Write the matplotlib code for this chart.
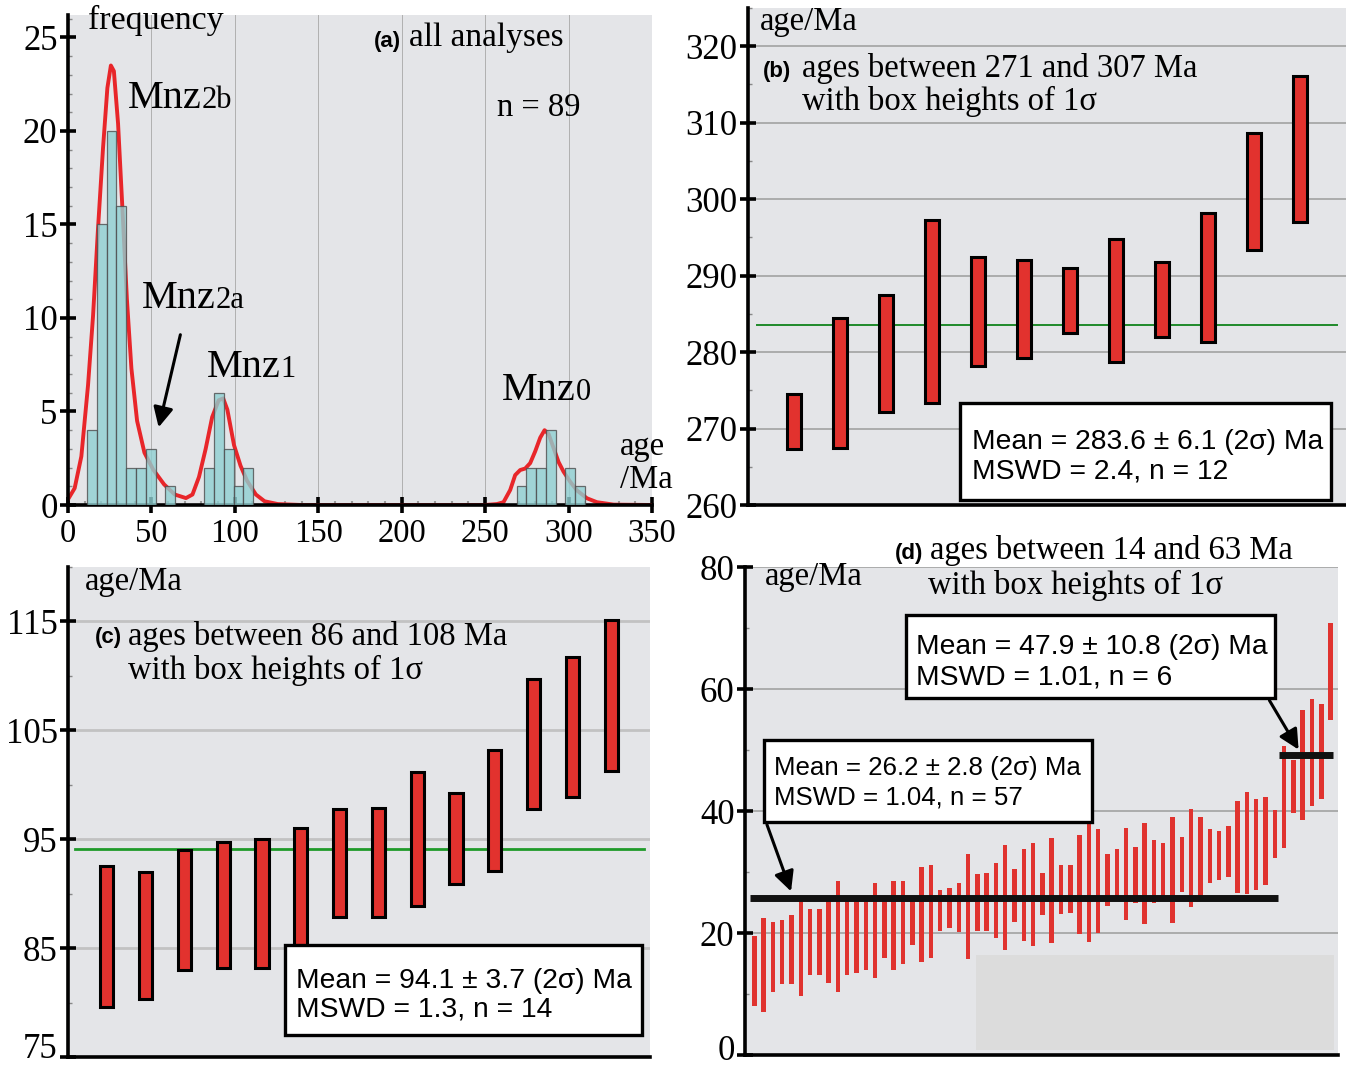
import matplotlib
matplotlib.use("Agg")
import matplotlib.pyplot as plt
from matplotlib.patches import Rectangle, FancyArrowPatch
from matplotlib.offsetbox import TextArea, HPacker, AnnotationBbox
from matplotlib.ticker import MultipleLocator
from matplotlib.transforms import ScaledTranslation

W, H = 1346, 1067

# ---- (a) histogram of all analyses
hist_left = [11.5, 17.35, 23.2, 29.05, 34.9, 40.75, 46.6, 58.3,
             81.7, 87.55, 93.4, 99.25, 105.1,
             268.9, 274.75, 280.6, 286.45, 298.15, 304.0]
hist_count = [4, 15, 20, 16, 2, 2, 3, 1,
              2, 6, 3, 1, 2,
              1, 2, 2, 4, 2, 1]
bin_width = 5.85

# probability density curve
curve_age = [0, 4, 8, 12, 15, 18, 21, 23.6, 25.7, 27.5, 30, 32.7, 35.3, 38, 41.4,
             45.8, 51, 57.6, 64, 70.7, 74.6, 78.5, 82.5, 86.4, 90.3, 93, 95.5, 99.5,
             103.4, 107.3, 112.6, 117.8, 125.7, 140, 250, 257, 261, 265, 268, 271,
             274, 277, 280, 283, 285.6, 288, 291, 294, 297, 301, 305, 311, 317, 327, 350]
curve_freq = [0.3, 0.9, 2.6, 6.4, 10.1, 14.8, 19.1, 22.3, 23.5, 23.2, 20.4, 15.7, 11.0, 7.3, 4.5,
              2.8, 1.9, 1.1, 0.56, 0.37, 0.56, 1.5, 3.0, 4.7, 5.6, 5.7, 5.1, 3.2,
              2.1, 1.3, 0.56, 0.2, 0.05, 0, 0, 0.05, 0.15, 0.8, 1.6, 1.87,
              1.95, 2.24, 2.87, 3.6, 4.0, 3.8, 3.05, 2.3, 1.78, 1.24, 0.78, 0.36, 0.15, 0.02, 0]

# ---- (b) 271-307 Ma, box tops / bottoms (1 sigma)
b_top = [274.5, 284.4, 287.5, 297.3, 292.5, 292.1, 291.0, 294.8, 291.8, 298.2, 308.7, 316.1]
b_bot = [267.3, 267.5, 272.1, 273.4, 278.2, 279.2, 282.5, 278.7, 282.0, 281.3, 293.4, 297.0]
b_mean = 283.6

# ---- (c) 86-108 Ma
c_top = [92.5, 92.0, 94.0, 94.7, 95.0, 96.0, 97.8, 97.9, 101.2, 99.2, 103.2, 109.7, 111.7, 115.1]
c_bot = [79.6, 80.3, 83.0, 83.2, 83.2, 84.9, 87.9, 87.9, 88.9, 90.9, 92.1, 97.8, 98.9, 101.3]
c_mean = 94.1

# ---- (d) 14-63 Ma
d_top = [19.5, 22.4, 21.8, 22.2, 22.9, 25.8, 23.9, 24.0, 25.3, 28.6,
         25.4, 25.4, 25.4, 28.2, 25.4, 28.5, 28.5, 25.3, 30.8, 31.1,
         27.0, 27.3, 28.2, 32.9, 29.7, 29.9, 31.4, 34.4, 30.5, 33.7,
         34.7, 29.9, 35.6, 31.2, 31.2, 36.1, 37.8, 37.0, 33.0, 33.75,
         37.2, 34.1, 38.0, 35.2, 34.8, 39.0, 35.8, 40.3, 39.0, 37.1,
         36.7, 37.6, 41.6, 43.1, 42.0, 42.3, 40.2,
         50.7, 48.4, 56.6, 58.4, 57.6, 70.9]
d_bot = [8.0, 7.1, 10.4, 11.6, 11.6, 9.7, 13.1, 13.1, 11.8, 10.3,
         13.1, 13.5, 13.9, 12.6, 15.9, 14.0, 15.0, 18.0, 15.3, 15.9,
         20.3, 20.8, 20.2, 15.8, 20.3, 20.4, 19.1, 17.2, 21.8, 18.7,
         17.9, 23.0, 18.3, 23.1, 23.2, 19.8, 18.5, 20.0, 24.5, 25.2,
         22.1, 24.9, 21.4, 24.9, 25.5, 21.6, 26.8, 24.2, 26.0, 28.2,
         28.7, 29.1, 26.5, 26.4, 27.1, 27.9, 32.3,
         33.9, 39.7, 38.6, 40.8, 42.0, 54.9]
# mean lines as drawn: (y, first bar, last bar)
d_means = [(25.8, 1, 57), (49.2, 58, 63)]

BG = "#e4e5e8"
RED = "#e2322e"
SERIF = "Liberation Serif"
SANS = "Liberation Sans"
TXT = 23.5

plt.rcParams["font.family"] = SERIF


def fx(x):
    return x / W


def fy(y):
    return 1 - y / H


def make_axes(l, t, r, b):
    ax = fig.add_axes([fx(l), fy(b), fx(r) - fx(l), (b - t) / H])
    ax.set_facecolor(BG)
    for s in ["top", "right"]:
        ax.spines[s].set_visible(False)
    for s in ["left", "bottom"]:
        ax.spines[s].set_linewidth(2.6)
        ax.spines[s].set_color("black")
    ax.tick_params(axis="y", which="major", direction="inout", length=11, width=2.6,
                   labelsize=25, pad=2)
    ax.tick_params(axis="y", which="minor", direction="in", length=3, width=1, color="#888888")
    return ax


def lift_bottom_label(ax, dy=7):
    # keep the lowest y label inside the canvas
    fig.canvas.draw()
    lab = ax.get_yticklabels()[0]
    lab.set_transform(lab.get_transform() + ScaledTranslation(0, dy / 100, fig.dpi_scale_trans))


def ftext(x, y, s, size=TXT, family=SERIF, weight="normal", ha="left"):
    fig.text(fx(x), fy(y), s, fontsize=size, family=family, weight=weight, ha=ha, va="center")


def box(l, t, r, b, line1, line2, tx, y1, y2, size=20.3):
    fig.add_artist(Rectangle((fx(l), fy(b)), fx(r) - fx(l), (b - t) / H, transform=fig.transFigure,
                             facecolor="white", edgecolor="black", lw=2.4, zorder=5))
    fig.text(fx(tx), fy(y1), line1, fontsize=size, family=SANS, va="center", zorder=6)
    fig.text(fx(tx), fy(y2), line2, fontsize=size, family=SANS, va="center", zorder=6)


def arrow(p0, p1):
    fig.add_artist(FancyArrowPatch((fx(p0[0]), fy(p0[1])), (fx(p1[0]), fy(p1[1])),
                                   transform=fig.transFigure, arrowstyle="-|>",
                                   mutation_scale=30, lw=2.2, color="black", zorder=7))


def mnz(x, y, main, sub):
    pack = HPacker(children=[TextArea(main, textprops=dict(size=29, family=SERIF)),
                             TextArea(sub, textprops=dict(size=22, family=SERIF))],
                   align="baseline", pad=0, sep=0)
    fig.add_artist(AnnotationBbox(pack, (fx(x), fy(y)), xycoords="figure fraction",
                                  box_alignment=(0, 0.5), frameon=False, pad=0))


fig = plt.figure(figsize=(W / 100, H / 100), dpi=100)

# ================= (a)
ax = make_axes(68, 15, 652, 505)
ax.set_xlim(0, 350)
ax.set_ylim(0, 26.2)
ax.set_xticks(range(0, 351, 50))
ax.set_yticks(range(0, 26, 5))
ax.xaxis.set_minor_locator(MultipleLocator(10))
ax.yaxis.set_minor_locator(MultipleLocator(1))
ax.tick_params(axis="x", which="major", direction="inout", length=11, width=2.6,
               labelsize=23.5, pad=4)
ax.tick_params(axis="x", which="minor", direction="in", length=3, width=1.5, color="#999999")
for gx in range(50, 351, 50):
    ax.axvline(gx, color="#b0b0b0", lw=0.7, zorder=0.5)
ax.plot(curve_age, curve_freq, color="#e8262a", lw=2.8, zorder=2)
ax.bar(hist_left, hist_count, width=bin_width, align="edge", color="#8fd0d2",
       edgecolor="#4d4d4d", lw=0.9, alpha=0.8, zorder=3)

ftext(88, 20, "frequency", 24.5)
ftext(374, 41, "(a)", 16, SANS, "bold")
ftext(409, 38, "all analyses", 24)
ftext(497, 108, "n = 89", TXT)
ftext(620, 447, "age", TXT)
ftext(620, 480, "/Ma", TXT)
mnz(128, 98, "Mnz", "2b")
mnz(142, 298, "Mnz", "2a")
mnz(207, 367, "Mnz", "1")
mnz(502, 390, "Mnz", "0")
arrow((181, 332), (158, 430))

# ================= (b)
ax = make_axes(748, 8, 1346, 505)
ax.set_xlim(0, 13)
ax.set_ylim(260, 325)
ax.set_xticks([])
ax.set_yticks(range(260, 321, 10))
ax.yaxis.set_minor_locator(MultipleLocator(5))
for gy in range(270, 321, 10):
    ax.axhline(gy, color="#9c9c9c", lw=1.1, zorder=0.5)
xb = list(range(1, len(b_top) + 1))
ax.bar(xb, [t - b for t, b in zip(b_top, b_bot)], bottom=b_bot, width=0.32,
       color=RED, edgecolor="black", lw=2.2, zorder=3)
ax.plot([0.2, 12.8], [b_mean, b_mean], color="#1f8a2a", lw=1.4, zorder=2)
ftext(760, 22, "age/Ma", TXT)
ftext(763, 71, "(b)", 16, SANS, "bold")
ftext(802, 68, "ages between 271 and 307 Ma", TXT)
ftext(802, 101, "with box heights of 1σ", TXT)
box(960, 403, 1331, 500, "Mean = 283.6 ± 6.1 (2σ) Ma", "MSWD = 2.4, n = 12", 972, 442, 472)

# ================= (c)
ax_c = ax = make_axes(68, 567, 650, 1057)
ax.set_xlim(0, 15)
ax.set_ylim(75, 120)
ax.set_xticks([])
ax.set_yticks(range(75, 116, 10))
ax.yaxis.set_minor_locator(MultipleLocator(5))
for gy in range(85, 116, 10):
    ax.axhline(gy, color="#c2c2c2", lw=2, zorder=0.5)
xc = list(range(1, len(c_top) + 1))
ax.bar(xc, [t - b for t, b in zip(c_top, c_bot)], bottom=c_bot, width=0.34,
       color=RED, edgecolor="black", lw=2.2, zorder=3)
ax.plot([0.17, 14.85], [c_mean, c_mean], color="#1f9a2a", lw=2, zorder=2)
ftext(85, 582, "age/Ma", TXT)
ftext(95, 638, "(c)", 16, SANS, "bold")
ftext(128, 636, "ages between 86 and 108 Ma", TXT)
ftext(128, 670, "with box heights of 1σ", TXT)
box(285, 945, 642, 1035, "Mean = 94.1 ± 3.7 (2σ) Ma", "MSWD = 1.3, n = 14", 296, 981, 1010)

# ================= (d)
ax_d = ax = make_axes(745, 567, 1338, 1055)
ax.set_xlim(0, 63.8)
ax.set_ylim(0, 80)
ax.set_xticks([])
ax.set_yticks(range(0, 81, 20))
ax.yaxis.set_minor_locator(MultipleLocator(10))
for gy in range(20, 81, 20):
    ax.axhline(gy, color="#9c9c9c", lw=1.1, zorder=0.5)
ax.add_patch(Rectangle((0.39, 0.01), 0.603, 0.195, transform=ax.transAxes,
                       facecolor="#dcdcdc", edgecolor="none", zorder=0.6))
xd = list(range(1, len(d_top) + 1))
ax.bar(xd, [t - b for t, b in zip(d_top, d_bot)], bottom=d_bot, width=0.48,
       color="#e0332f", lw=0, zorder=3)
for my, i0, i1 in d_means:
    ax.plot([i0 - 0.5, i1 + 0.3], [my, my], color="#111111", lw=5, solid_capstyle="butt", zorder=4)
ftext(765, 577, "age/Ma", TXT)
ftext(895, 554, "(d)", 16, SANS, "bold")
ftext(930, 551, "ages between 14 and 63 Ma", TXT)
ftext(928, 585, "with box heights of 1σ", TXT)
box(906, 615, 1275, 698, "Mean = 47.9 ± 10.8 (2σ) Ma", "MSWD = 1.01, n = 6", 916, 647, 677)
box(764, 740, 1092, 822, "Mean = 26.2 ± 2.8 (2σ) Ma", "MSWD = 1.04, n = 57", 774, 768, 797,
    size=18.6)
arrow((1268, 698), (1300, 752))
arrow((766, 822), (792, 894))

lift_bottom_label(ax_c, 12)
lift_bottom_label(ax_d, 8)

fig.savefig("out.png", dpi=100)
